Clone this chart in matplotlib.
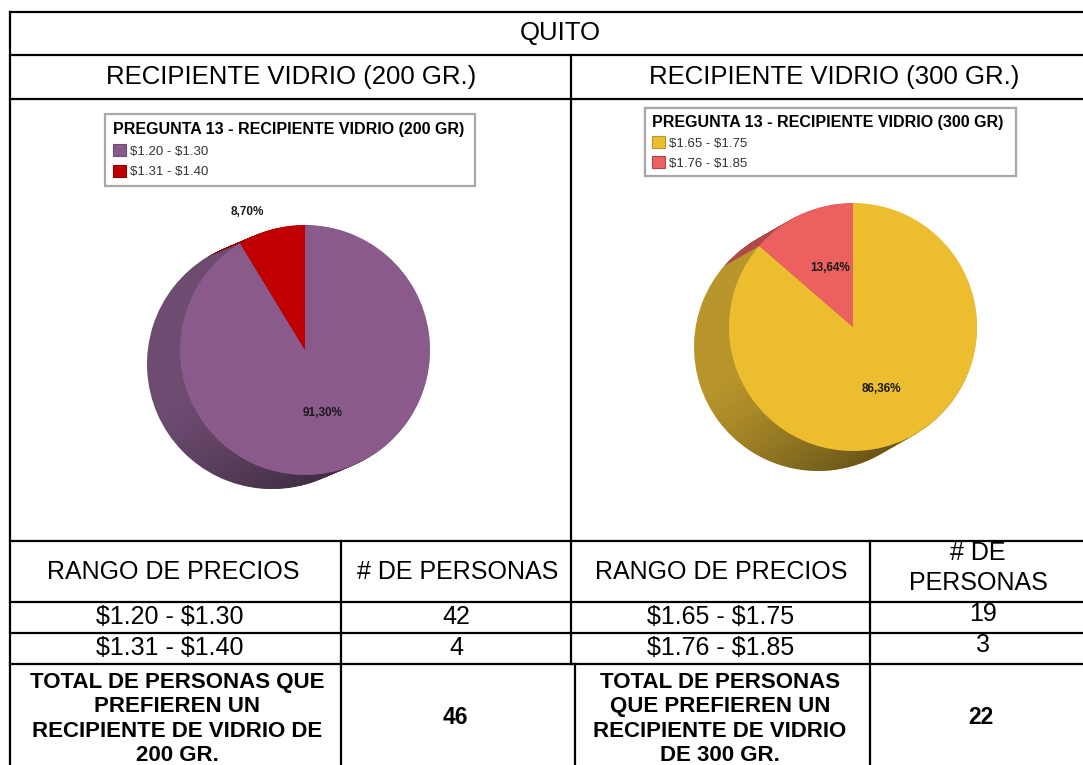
import numpy as np
import matplotlib.pyplot as plt
from matplotlib.patches import Patch, Polygon

plt.rcParams['font.family'] = ['Liberation Sans', 'DejaVu Sans']
plt.rcParams['text.parse_math'] = False

# datos de la pregunta 13 (Quito)
ciudad = 'QUITO'
titulo_200 = 'RECIPIENTE VIDRIO (200 GR.)'
titulo_300 = 'RECIPIENTE VIDRIO (300 GR.)'
leyenda_200 = 'PREGUNTA 13 - RECIPIENTE VIDRIO (200 GR)'
leyenda_300 = 'PREGUNTA 13 - RECIPIENTE VIDRIO (300 GR)'
rangos_200 = ['$1.20 - $1.30', '$1.31 - $1.40']
personas_200 = [42, 4]
rangos_300 = ['$1.65 - $1.75', '$1.76 - $1.85']
personas_300 = [19, 3]
total_200_txt = 'TOTAL DE PERSONAS QUE\nPREFIEREN UN\nRECIPIENTE DE VIDRIO DE\n200 GR.'
total_300_txt = 'TOTAL DE PERSONAS\nQUE PREFIEREN UN\nRECIPIENTE DE VIDRIO\nDE 300 GR.'

colores_200 = ['#8a5b8a', '#c00000']
lados_200 = ['#6e4c72', '#8e0000']
colores_300 = ['#ecbe2f', '#ec6060']
lados_300 = ['#b9962c', '#b04848']

W, H = 1083, 765
fig = plt.figure(figsize=(W / 100, H / 100), dpi=100)

# ---- tabla (coordenadas en pixeles, y hacia abajo)
tab = fig.add_axes([0, 0, 1, 1])
tab.set_xlim(0, W)
tab.set_ylim(H, 0)
tab.axis('off')


def linea(xs, ys):
    tab.plot(xs, ys, color='black', lw=1.6, solid_capstyle='projecting')


for y in [12, 55, 99, 541, 602, 633, 664]:
    linea([10, W], [y, y])
linea([10, 10], [12, H])
linea([571, 571], [55, 664])
linea([575, 575], [664, H])
linea([341, 341], [541, H])
linea([870, 870], [541, H])


def celda(x, y, s, size=18, bold=False, ls=1.2):
    tab.text(x, y, s, ha='center', va='center', fontsize=size,
             fontweight='bold' if bold else 'normal', linespacing=ls)


celda(560, 33, ciudad, 18.5)
celda(291, 77, titulo_200, 18.5)
celda(834, 77, titulo_300, 18.5)

celda(173, 572, 'RANGO DE PRECIOS', 18)
celda(458, 572, '# DE PERSONAS', 18)
celda(721, 572, 'RANGO DE PRECIOS', 18)
celda(978, 568, '# DE\nPERSONAS', 18, ls=1.35)

for i, (r, p) in enumerate(zip(rangos_200, personas_200)):
    celda(170, 617 + 31 * i, r, 18)
    celda(456, 617 + 31 * i, str(p), 18)
for i, (r, p) in enumerate(zip(rangos_300, personas_300)):
    celda(721, 617 + 31 * i, r, 18)
    celda(983, 614 + 31 * i, str(p), 18)

celda(177, 719, total_200_txt, 16, bold=True, ls=1.22)
celda(455, 718, str(sum(personas_200)), 16.5, bold=True)
celda(720, 719, total_300_txt, 16, bold=True, ls=1.22)
celda(981, 718, str(sum(personas_300)), 16.5, bold=True)

# ---- graficos de pastel con efecto 3D
pie = fig.add_axes([0, 0, 1, 1])
pie.patch.set_alpha(0)


def pastel(cx, cy, valores, colores, lados, radio, prof, pos_etq):
    Y = H - cy
    dx, dy = prof[0], -prof[1]
    n = 40
    for k in range(n, 0, -1):
        t = k / n
        pie.pie(valores, colors=lados, radius=radio,
                center=(cx + t * dx, Y + t * dy), startangle=90,
                counterclock=False, frame=True,
                wedgeprops=dict(linewidth=0, zorder=1))

    # sombreado del costado
    phi = np.arctan2(dy, dx)
    th1 = np.linspace(phi - np.pi / 2, phi + np.pi / 2, 120)
    th2 = np.linspace(phi + np.pi / 2, phi + 3 * np.pi / 2, 120)
    pts = np.vstack([
        np.c_[cx + dx + radio * np.cos(th1), Y + dy + radio * np.sin(th1)],
        np.c_[cx + radio * np.cos(th2), Y + radio * np.sin(th2)],
    ])
    casco = Polygon(pts, closed=True, transform=pie.transData)
    x0, x1 = cx + dx - radio, cx + radio
    y0, y1 = Y + dy - radio, Y + radio
    gx, gy = np.meshgrid(np.linspace(x0, x1, 200), np.linspace(y0, y1, 200))
    u = np.array([np.cos(np.deg2rad(-55)), np.sin(np.deg2rad(-55))])
    proj = (gx - cx) * u[0] + (gy - Y) * u[1]
    s = np.clip((proj + 0.3 * radio) / (1.3 * radio + 30), 0, 1)
    rgba = np.zeros(gx.shape + (4,))
    rgba[..., 3] = 0.55 * s ** 1.3
    im = pie.imshow(rgba, extent=[x0, x1, y0, y1], origin='lower',
                    zorder=2, interpolation='bilinear')
    im.set_clip_path(casco)

    cuna, _ = pie.pie(valores, colors=colores, radius=radio, center=(cx, Y),
                      startangle=90, counterclock=False, frame=True,
                      wedgeprops=dict(linewidth=0, zorder=3))
    total = sum(valores)
    for w, v, (d, giro) in zip(cuna, valores, pos_etq):
        a = np.deg2rad((w.theta1 + w.theta2) / 2 + giro)
        txt = f'{v / total * 100:.2f}%'.replace('.', ',')
        pie.text(cx + d * radio * np.cos(a), Y + d * radio * np.sin(a), txt,
                 ha='center', va='center', fontsize=8.5, fontweight='bold',
                 color='#1a1a1a', zorder=4)


pastel(305, 350, personas_200, colores_200, lados_200, 125, (-33, 14),
       [(0.52, 0), (1.2, 7)])
pastel(853, 327, personas_300, colores_300, lados_300, 124, (-35, 20),
       [(0.55, 0), (0.51, -3)])

pie.set_xlim(0, W)
pie.set_ylim(0, H)
pie.set_aspect('auto')
pie.axis('off')


def leyenda(titulo, rangos, colores, lados, x0, y0, x1, pad, esp):
    manijas = [Patch(facecolor=c, edgecolor=e, linewidth=0.8)
               for c, e in zip(colores, lados)]
    leg = pie.legend(manijas, rangos, title=titulo, loc='upper left',
                     bbox_to_anchor=(x0, H - y0 - 40, x1 - x0, 40),
                     bbox_transform=pie.transData, mode='expand',
                     alignment='left', prop={'size': 9.5},
                     title_fontproperties={'weight': 'bold', 'size': 11.5},
                     fancybox=False, framealpha=1, edgecolor='#a8a8a8',
                     borderpad=pad, labelspacing=esp, handlelength=1.0,
                     handleheight=1.0, handletextpad=0.3, borderaxespad=0)
    leg.get_frame().set_linewidth(1.6)
    for t in leg.get_texts():
        t.set_color('#333333')
    pie.add_artist(leg)
    return leg


leyenda(leyenda_200, rangos_200, colores_200, lados_200, 105, 114, 475, 0.6, 0.55)
leyenda(leyenda_300, rangos_300, colores_300, lados_300, 645, 108, 1016, 0.5, 0.5)

fig.savefig('out.png', dpi=100, facecolor='white')
